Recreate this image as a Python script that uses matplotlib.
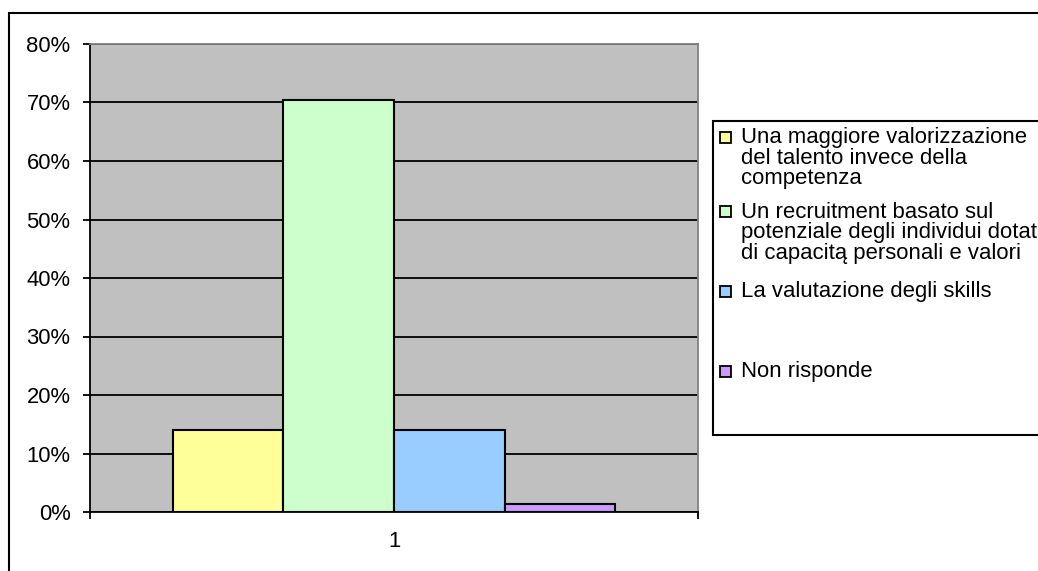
import matplotlib.pyplot as plt
from matplotlib.patches import Rectangle
from matplotlib.ticker import PercentFormatter

plt.rcParams['font.family'] = ['Liberation Sans', 'DejaVu Sans']

# survey answers (share of respondents)
categories = ["1"]
labels = [
    "Una maggiore valorizzazione\ndel talento invece della\ncompetenza",
    "Un recruitment basato sul\npotenziale degli individui dotati\ndi capacitą personali e valori",
    "La valutazione degli skills",
    "Non risponde",
]
values = [14.1, 70.4, 14.1, 1.4]
colors = ["#FFFF99", "#CCFFCC", "#99CCFF", "#CC99FF"]
yticks = [0, 10, 20, 30, 40, 50, 60, 70, 80]

W, H = 1038, 571


def fx(x):
    return x / W


def fy(y):
    return 1 - y / H


fig = plt.figure(figsize=(W / 100, H / 100), dpi=100)
ax = fig.add_axes([fx(90), fy(512), fx(698) - fx(90), fy(44) - fy(512)])
ax.set_facecolor("#C0C0C0")

# Excel-style clustered bars, gap width 150%
n = len(values)
w = 1 / (n + 1.5)
for i, (v, c, lab) in enumerate(zip(values, colors, labels)):
    ax.bar(1 + (i - (n - 1) / 2) * w, v, width=w, color=c,
           edgecolor="black", linewidth=1.5, label=lab, zorder=3)

ax.set_xlim(0.5, 1.5)
ax.set_ylim(0, 80)
ax.set_yticks(yticks)
ax.yaxis.set_major_formatter(PercentFormatter(decimals=0))
ax.set_axisbelow(True)
ax.yaxis.grid(True, color="black", linewidth=1.3)

ax.set_xticks([1])
ax.set_xticklabels(categories)
ax.set_xticks([0.5, 1.5], minor=True)
ax.tick_params(axis="x", which="major", length=0, pad=14, labelsize=15.8)
ax.tick_params(axis="x", which="minor", length=5, width=1.3, direction="out")
ax.tick_params(axis="y", length=5, width=1.3, direction="out", pad=9, labelsize=15.8)

for side in ("left", "bottom"):
    ax.spines[side].set_color("black")
    ax.spines[side].set_linewidth(1.3)
for side in ("top", "right"):
    ax.spines[side].set_color("#808080")
    ax.spines[side].set_linewidth(1.3)

# chart frame
fig.patches.append(Rectangle((fx(9), fy(H + 20)), fx(W + 20) - fx(9), fy(13) - fy(H + 20),
                             transform=fig.transFigure, fill=False,
                             edgecolor="black", linewidth=1.5))

# legend box drawn by hand so the entries keep their uneven spacing
fig.patches.append(Rectangle((fx(713), fy(435)), fx(W + 20) - fx(713), fy(121) - fy(435),
                             transform=fig.transFigure, facecolor="white",
                             edgecolor="black", linewidth=1.5))
entry_top = [138, 212, 292, 372]
line_step = 20.5
for lab, c, y0 in zip(labels, colors, entry_top):
    fig.patches.append(Rectangle((fx(720), fy(y0 + 5)), fx(11), fy(0) - fy(11),
                                 transform=fig.transFigure, facecolor=c,
                                 edgecolor="black", linewidth=1.3))
    for k, line in enumerate(lab.split("\n")):
        fig.text(fx(741), fy(y0 + k * line_step), line, fontsize=15.9,
                 ha="left", va="center")

fig.savefig("out.png", dpi=100)
